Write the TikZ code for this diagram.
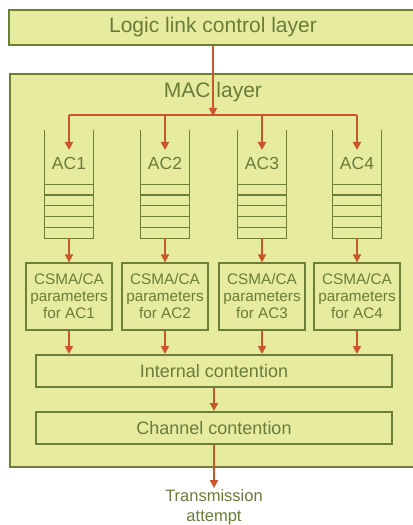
\documentclass[tikz,border=0pt]{standalone}
\usepackage{fontspec}
\setmainfont{Liberation Sans}
\usetikzlibrary{arrows.meta}

\definecolor{layerfill}{HTML}{E6EB9F}
\definecolor{layeredge}{HTML}{6C7F38}
\definecolor{layertext}{HTML}{6A7C3A}
\definecolor{flowred}{HTML}{CC5529}

\tikzset{
	box/.style={draw=layeredge,fill=layerfill,text=layertext,inner sep=0pt},
	flow/.style={draw=flowred,line width=1.8bp,-{Triangle[width=8bp,length=8bp]}},
	slot/.style={draw=layeredge,line width=1.2bp},
}

\begin{document}
\begin{tikzpicture}[x=1bp,y=-1bp]
		\useasboundingbox (0,0) rectangle (412,525);
		\node[box,line width=2.4bp,minimum width=408bp,minimum height=35bp,font=\fontsize{21bp}{25bp}\selectfont] (llc) at (213,27.5) {Logic link control layer};
		\node[box,line width=2.4bp,minimum width=406bp,minimum height=393bp] (mac) at (213,270.5) {};
		\node[text=layertext,font=\fontsize{21bp}{25bp}\selectfont] (maclabel) at (213,92) {MAC layer};

		\node[box,line width=2bp,minimum width=356bp,minimum height=32bp,font=\fontsize{18bp}{22bp}\selectfont] (ic) at (214,371) {Internal contention};
		\node[box,line width=2bp,minimum width=356bp,minimum height=32bp,font=\fontsize{18bp}{22bp}\selectfont] (cc) at (214,428) {Channel contention};
		\node[text=layertext,align=center,inner sep=1bp,font=\fontsize{16.5bp}{20bp}\selectfont] (tx) at (214,507) {Transmission\\attempt};

		\coordinate (split) at (213,116);
		\draw[flow] (llc.south) -- (split);

		\foreach \i/\x in {1/69,2/165,3/262,4/357}
		{
			\coordinate (tap\i) at (\x,115);
			\coordinate (in\i) at (\x,150);
			\node[minimum width=48bp,minimum height=108bp,inner sep=0pt] (q\i) at (\x,184) {};
			\draw[slot] (q\i.north west) -- (q\i.south west) -- (q\i.south east) -- (q\i.north east);
			\foreach \k in {1,...,5}
				\draw[slot] ([yshift=\k*10.8bp]q\i.south west) -- ([yshift=\k*10.8bp]q\i.south east);
			\node[text=layertext,font=\fontsize{17.5bp}{21bp}\selectfont] (ac\i) at (\x,163) {AC\i};
			\node[box,line width=1.3bp,minimum width=86bp,minimum height=67bp,align=center,font=\fontsize{15.3bp}{17bp}\selectfont] (csma\i) at (\x,296.5) {CSMA/CA\\parameters\\for AC\i};
			\draw[flow] (tap\i) -- (in\i);
			\draw[flow] (q\i.south) -- (csma\i.north);
			\draw[flow] (csma\i.south) -- (csma\i.south |- ic.north);
		}
		\draw[flowred,line width=1.8bp] (tap1) -- (tap4);

		\draw[flow] (ic.south) -- (cc.north);
		\draw[flow] (cc.south) -- (tx.north);
	    \end{tikzpicture}
\end{document}
